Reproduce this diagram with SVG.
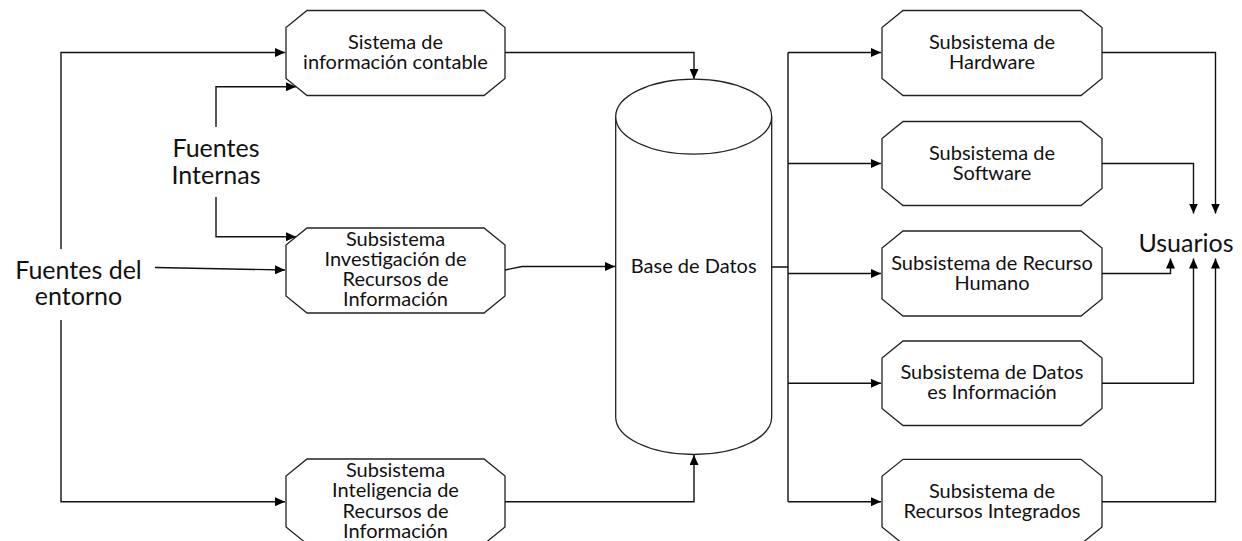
<svg xmlns="http://www.w3.org/2000/svg" width="1242" height="541" viewBox="0 0 1242 541">
<defs>
<style>
.box{fill:#fff;stroke:#222;stroke-width:1.3}
.t{font-family:Lato,"Open Sans",sans-serif;font-size:20px;fill:#111;text-anchor:middle}
.big{font-family:Lato,"Open Sans",sans-serif;font-size:25px;fill:#111;text-anchor:middle}
.c{fill:none;stroke:#111;stroke-width:1.4}
.a{marker-end:url(#arr)}
</style>
<marker id="arr" markerUnits="userSpaceOnUse" markerWidth="11" markerHeight="9" refX="10" refY="4.5" orient="auto">
<path d="M0,0 L10,4.5 L0,9 z" fill="#000"/>
</marker>
</defs>
<rect width="1242" height="541" fill="#fff"/>

<g id="connectors">
<path class="c a" d="M61,249 V52.5 H285"/>
<path class="c a" d="M61,320 V501.7 H285"/>
<path class="c a" d="M155,267.5 L285,270"/>
<path class="c a" d="M216,127 V86.7 H296"/>
<path class="c a" d="M216,197 V236.7 H296"/>
<path class="c a" d="M505,52.5 H694 V79"/>
<path class="c a" d="M505,270 L522,266.5 H615"/>
<path class="c a" d="M505,501.7 H694 V455"/>
<path class="c" d="M771.7,267 H788 M788,52.5 V501.7"/>
<path class="c a" d="M788,52.5 H881"/>
<path class="c a" d="M788,163.5 H881"/>
<path class="c a" d="M788,273.5 H881"/>
<path class="c a" d="M788,383.3 H881"/>
<path class="c a" d="M788,501.7 H881"/>
<path class="c a" d="M1102,52.5 H1215.5 V213.5"/>
<path class="c a" d="M1102,163.5 H1193.5 V213.5"/>
<path class="c a" d="M1102,273.5 H1170.5 V258.5"/>
<path class="c a" d="M1102,383.3 H1193.5 V258.5"/>
<path class="c a" d="M1102,501.7 H1215.5 V258.5"/>
</g>

<g id="fuentes-entorno">
<text class="big" x="78.5" y="279">Fuentes del</text>
<text class="big" x="78.5" y="305">entorno</text>
</g>
<g id="fuentes-internas">
<text class="big" x="216" y="157">Fuentes</text>
<text class="big" x="216" y="184">Internas</text>
</g>

<g id="sistema-contable">
<polygon class="box" points="307,10.5 484,10.5 505,27.5 505,78.5 484,95.5 307,95.5 286,78.5 286,27.5"/>
<text class="t" x="395.5" y="49">Sistema de</text>
<text class="t" x="395.5" y="68.5">información contable</text>
</g>

<g id="subsistema-investigacion">
<polygon class="box" points="307,228 484,228 505,245 505,296 484,313 307,313 286,296 286,245"/>
<text class="t" x="395.5" y="245.5">Subsistema</text>
<text class="t" x="395.5" y="265.8">Investigación de</text>
<text class="t" x="395.5" y="286.1">Recursos de</text>
<text class="t" x="395.5" y="306.4">Información</text>
</g>

<g id="subsistema-inteligencia">
<polygon class="box" points="307,459 484,459 505,476 505,527 484,544 307,544 286,527 286,476"/>
<text class="t" x="395.5" y="477">Subsistema</text>
<text class="t" x="395.5" y="497.3">Inteligencia de</text>
<text class="t" x="395.5" y="517.6">Recursos de</text>
<text class="t" x="395.5" y="537.9">Información</text>
</g>

<g id="base-de-datos">
<path class="box" d="M615.7,116.7 V417 A78,37.5 0 0 0 771.7,417 V116.7"/>
<ellipse class="box" cx="693.7" cy="116.7" rx="78" ry="37.5"/>
<text class="t" x="693.7" y="272.5">Base de Datos</text>
</g>

<g id="subsistema-hardware">
<polygon class="box" points="903,10.5 1081,10.5 1102,27.5 1102,78.5 1081,95.5 903,95.5 882,78.5 882,27.5"/>
<text class="t" x="992" y="49">Subsistema de</text>
<text class="t" x="992" y="69">Hardware</text>
</g>

<g id="subsistema-software">
<polygon class="box" points="903,121.5 1081,121.5 1102,138.5 1102,188.5 1081,205.5 903,205.5 882,188.5 882,138.5"/>
<text class="t" x="992" y="159.5">Subsistema de</text>
<text class="t" x="992" y="179.5">Software</text>
</g>

<g id="subsistema-recurso-humano">
<polygon class="box" points="903,231 1081,231 1102,248 1102,299 1081,316 903,316 882,299 882,248"/>
<text class="t" x="992" y="269.5">Subsistema de Recurso</text>
<text class="t" x="992" y="289.5">Humano</text>
</g>

<g id="subsistema-datos">
<polygon class="box" points="903,341 1081,341 1102,358 1102,408.5 1081,425.5 903,425.5 882,408.5 882,358"/>
<text class="t" x="992" y="379.3">Subsistema de Datos</text>
<text class="t" x="992" y="399.3">es Información</text>
</g>

<g id="subsistema-integrados">
<polygon class="box" points="903,459.3 1081,459.3 1102,476.3 1102,527 1081,544 903,544 882,527 882,476.3"/>
<text class="t" x="992" y="497.7">Subsistema de</text>
<text class="t" x="992" y="517.7">Recursos Integrados</text>
</g>

<g id="usuarios">
<text class="big" x="1186" y="252">Usuarios</text>
</g>
</svg>
